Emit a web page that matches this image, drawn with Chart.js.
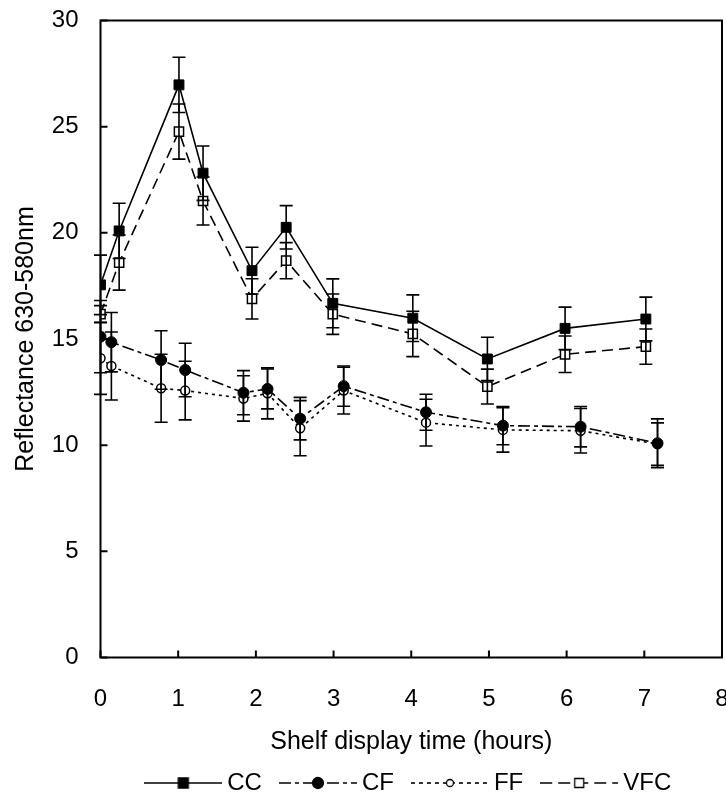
<!DOCTYPE html>
<html lang="en">
<head>
    <meta charset="UTF-8">
    <title>Reflectance during shelf display</title>
    <script src="https://cdn.jsdelivr.net/npm/chart.js"></script>
    <style>
        body {
            margin: 0;
            background-color: #ffffff;
        }
        #reflChart {
            display: block;
        }
    </style>
</head>
<body>
    <canvas id="reflChart" width="726" height="805"></canvas>

    <script>
        // shelf display times (hours) as plotted
        const ccTimes = [0, 0.24, 1.01, 1.32, 1.95, 2.39, 2.99, 4.02, 4.98, 5.98, 7.02];
        const cfTimes = [0, 0.14, 0.78, 1.09, 1.84, 2.15, 2.57, 3.13, 4.19, 5.18, 6.18, 7.17];

        // series values and error bar sizes
        const ccValues = [17.55, 20.09, 26.97, 22.81, 18.22, 20.26, 16.68, 15.98, 14.06, 15.5, 15.94];
        const ccErrors = [1.4, 1.3, 1.3, 1.28, 1.1, 1.02, 1.15, 1.1, 1.02, 1.0, 1.03];
        const vfcValues = [16.17, 18.6, 24.77, 21.5, 16.89, 18.69, 16.17, 15.24, 12.76, 14.28, 14.64];
        const vfcErrors = [0.4, 1.3, 1.3, 1.13, 0.95, 0.85, 0.95, 1.07, 0.82, 0.86, 0.83];
        const cfValues = [15.11, 14.85, 14.01, 13.54, 12.47, 12.65, 11.25, 12.78, 11.55, 10.92, 10.87, 10.09];
        const cfErrors = [1.7, 1.4, 1.38, 1.26, 1.04, 0.94, 1.0, 0.95, 0.85, 0.9, 0.95, 1.15];
        const ffValues = [14.09, 13.73, 12.68, 12.57, 12.2, 12.44, 10.8, 12.57, 11.06, 10.72, 10.68, 10.05];
        const ffErrors = [1.7, 1.6, 1.6, 1.38, 1.07, 1.2, 1.3, 1.1, 1.1, 1.05, 1.05, 1.0];

        // axis ticks
        const xTicks = [0, 1, 2, 3, 4, 5, 6, 7, 8];
        const yTicks = [0, 5, 10, 15, 20, 25, 30];

        const font = { family: "'Liberation Sans', Arial, sans-serif", size: 24 };
        const titleFont = { family: "'Liberation Sans', Arial, sans-serif", size: 25 };

        const toPoints = (times, values) => times.map((t, i) => ({ x: t, y: values[i] }));

        // keep the plot box where the original has it (last "8" label runs off the edge)
        const zeroPad = s => { s.paddingLeft = 0; s.paddingRight = 0; s.paddingTop = 0; s.paddingBottom = 0; };

        // small line+marker pictures for the legend
        function legendSample(dash, marker, filled, size) {
            const c = document.createElement('canvas');
            c.width = 78;
            c.height = 16;
            const g = c.getContext('2d');
            g.strokeStyle = '#000';
            g.lineWidth = 1.6;
            g.setLineDash(dash);
            g.beginPath();
            g.moveTo(0, 8);
            g.lineTo(78, 8);
            g.stroke();
            g.setLineDash([]);
            g.fillStyle = filled ? '#000' : '#fff';
            g.lineWidth = 1.3;
            g.beginPath();
            if (marker === 'rect') {
                g.rect(39 - size / 2, 8 - size / 2, size, size);
            } else {
                g.arc(39, 8, size / 2, 0, Math.PI * 2);
            }
            g.fill();
            g.stroke();
            return c;
        }

        const series = [
            { label: 'CC', data: toPoints(ccTimes, ccValues), errors: ccErrors, dash: [], style: 'rect', radius: 7, filled: true,
              sample: legendSample([], 'rect', true, 10) },
            { label: 'CF', data: toPoints(cfTimes, cfValues), errors: cfErrors, dash: [12, 4, 4, 4], style: 'circle', radius: 5.5, filled: true,
              sample: legendSample([12, 4, 4, 4], 'circle', true, 11) },
            { label: 'FF', data: toPoints(cfTimes, ffValues), errors: ffErrors, dash: [3, 4], style: 'circle', radius: 4.5, filled: false,
              sample: legendSample([4, 4], 'circle', false, 7) },
            { label: 'VFC', data: toPoints(ccTimes, vfcValues), errors: vfcErrors, dash: [11, 6], style: 'rect', radius: 6.5, filled: false,
              sample: legendSample([12, 6], 'rect', false, 9) }
        ];

        // error bars, frame and inward tick marks
        const framePlugin = {
            id: 'framePlugin',
            afterDatasetsDraw(chart) {
                const { ctx, chartArea: a, scales: { x, y } } = chart;
                ctx.save();
                ctx.strokeStyle = '#000';
                ctx.lineWidth = 1.6;
                chart.data.datasets.forEach(ds => {
                    ds.data.forEach((p, i) => {
                        const px = x.getPixelForValue(p.x);
                        const top = y.getPixelForValue(p.y + ds.errors[i]);
                        const bot = y.getPixelForValue(p.y - ds.errors[i]);
                        ctx.beginPath();
                        ctx.moveTo(px, top);
                        ctx.lineTo(px, bot);
                        ctx.moveTo(px - 6.5, top);
                        ctx.lineTo(px + 6.5, top);
                        ctx.moveTo(px - 6.5, bot);
                        ctx.lineTo(px + 6.5, bot);
                        ctx.stroke();
                    });
                });

                ctx.lineWidth = 2;
                ctx.strokeRect(a.left, a.top, a.right - a.left, a.bottom - a.top);
                ctx.beginPath();
                yTicks.forEach(v => {
                    const py = y.getPixelForValue(v);
                    ctx.moveTo(a.left, py);
                    ctx.lineTo(a.left + 7, py);
                });
                xTicks.forEach(v => {
                    const px = x.getPixelForValue(v);
                    ctx.moveTo(px, a.bottom);
                    ctx.lineTo(px, a.bottom - 7);
                });
                ctx.stroke();
                ctx.restore();
            }
        };

        const ctx = document.getElementById('reflChart').getContext('2d');
        new Chart(ctx, {
            type: 'line',
            data: {
                datasets: series.map(s => ({
                    label: s.label,
                    data: s.data,
                    errors: s.errors,
                    borderColor: '#000',
                    borderWidth: 1.6,
                    borderDash: s.dash,
                    pointStyle: s.style,
                    pointRadius: s.radius,
                    pointBackgroundColor: s.filled ? '#000' : '#fff',
                    pointBorderColor: '#000',
                    pointBorderWidth: s.filled ? 1 : 1.5,
                    tension: 0,
                    fill: false
                }))
            },
            options: {
                responsive: false,
                animation: false,
                // autoPadding would reserve room for the big markers and pull the right edge in
                layout: { autoPadding: false, padding: { top: 20.5, right: 4, left: 0, bottom: 0 } },
                plugins: {
                    tooltip: { enabled: false },
                    legend: {
                        position: 'bottom',
                        fullSize: false,
                        labels: {
                            usePointStyle: true,
                            pointStyleWidth: 64,
                            padding: 24,
                            font: font,
                            color: '#000',
                            generateLabels: () => series.map((s, i) => ({
                                text: s.label,
                                pointStyle: s.sample,
                                fillStyle: '#000',
                                strokeStyle: '#000',
                                lineWidth: 0,
                                hidden: false,
                                datasetIndex: i
                            }))
                        }
                    }
                },
                scales: {
                    x: {
                        type: 'linear',
                        min: 0,
                        max: 8,
                        afterBuildTicks: s => { s.ticks = xTicks.map(v => ({ value: v })); },
                        ticks: { padding: 27, font: font, color: '#000', maxRotation: 0 },
                        grid: { display: false, drawTicks: false },
                        border: { display: false },
                        title: { display: true, text: 'Shelf display time (hours)', font: titleFont, color: '#000',
                                 padding: { top: 0, bottom: -10 } },
                        afterFit: s => { s.height = 89.5; zeroPad(s); }
                    },
                    y: {
                        min: 0,
                        max: 30,
                        afterBuildTicks: s => { s.ticks = yTicks.map(v => ({ value: v })); },
                        ticks: { padding: 22, font: font, color: '#000' },
                        grid: { display: false, drawTicks: false },
                        border: { display: false },
                        title: { display: true, text: 'Reflectance 630-580nm', font: titleFont, color: '#000',
                                 padding: { top: 11, bottom: 0 } },
                        afterFit: s => { s.width = 100.5; zeroPad(s); }
                    }
                }
            },
            plugins: [framePlugin]
        });
    </script>
</body>
</html>
